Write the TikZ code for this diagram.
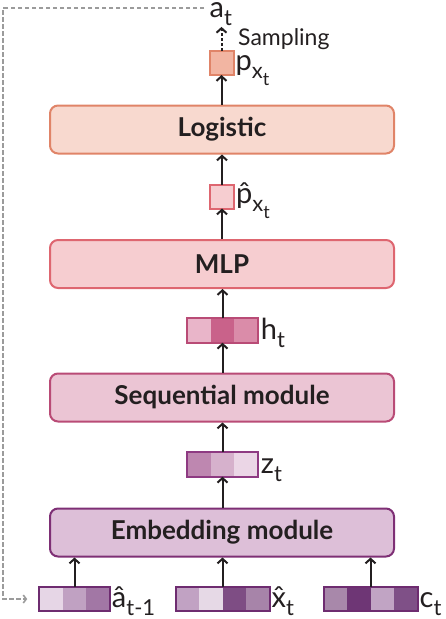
\documentclass[tikz,border=0pt]{standalone}
\usepackage{fontspec}
\setmainfont{Lato}
\usetikzlibrary{arrows.meta,calc}
\definecolor{ink}{HTML}{231F20}
\definecolor{logF}{HTML}{F8D9CF}
\definecolor{logD}{HTML}{E08468}
\definecolor{pxF}{HTML}{F2B5A2}
\definecolor{mlpF}{HTML}{F6CDD0}
\definecolor{mlpD}{HTML}{DE6670}
\definecolor{seqF}{HTML}{EBC5D4}
\definecolor{seqD}{HTML}{B94B76}
\definecolor{embF}{HTML}{DDBFD8}
\definecolor{embD}{HTML}{7E2F75}
\definecolor{zD}{HTML}{8E3A82}
\definecolor{inD}{HTML}{6E2C70}
\definecolor{hA}{HTML}{E9B5C9}
\definecolor{hB}{HTML}{C9628A}
\definecolor{hC}{HTML}{DA8CA9}
\definecolor{zA}{HTML}{BE87B0}
\definecolor{zB}{HTML}{D6B1CC}
\definecolor{zC}{HTML}{EBD6E6}
\definecolor{aA}{HTML}{E6D6E6}
\definecolor{aB}{HTML}{C0A1C2}
\definecolor{aC}{HTML}{A277A5}
\definecolor{xA}{HTML}{C1A2C3}
\definecolor{xB}{HTML}{E6D9E6}
\definecolor{xC}{HTML}{7E4D84}
\definecolor{xD}{HTML}{A784A9}
\definecolor{cA}{HTML}{A888AA}
\definecolor{cB}{HTML}{6E3675}
\definecolor{cC}{HTML}{C1A4C4}
\definecolor{cD}{HTML}{7F5087}
\definecolor{fbgray}{HTML}{9B9B9B}
\newcommand{\Lm}[1]{{\fontsize{29}{29}\selectfont #1}}
\newcommand{\Ls}[1]{\raisebox{-8pt}{\fontsize{22}{22}\selectfont #1}}
\newcommand{\Lss}[1]{\raisebox{-7pt}{\fontsize{18}{18}\selectfont #1}}
\newcommand{\hatted}[1]{\ooalign{#1\cr\hidewidth ˆ\hidewidth\cr}}
\tikzset{
  bx/.style={draw, line width=2pt, rounded corners=8pt, minimum width=344pt,
    minimum height=48pt, text=ink, font=\fontsize{26}{26}\selectfont\bfseries},
  sq/.style={draw, line width=2pt, minimum width=24pt, minimum height=24pt, inner sep=0pt, outer sep=0pt},
  barnode/.style={line width=2pt, minimum height=24.5pt, inner sep=0pt, outer sep=0pt},
  lbl/.style={inner sep=0pt, text=ink, anchor=base west},
  arr/.style={draw=ink, line width=2pt, -{Straight Barb[length=4.5pt,width=10pt]}},
  sarr/.style={arr, dash pattern=on 3pt off 2pt},
  fb/.style={draw=fbgray, line width=1.6pt, dash pattern=on 4.5pt off 2.5pt, -{Straight Barb[length=3pt,width=8pt]}},
}
\newcommand{\cellbar}[5]{%
  \foreach \cc [count=\i] in {#5}{\fill[\cc] ($(#2)+({(\i-1-#4/2)*23.5},-12.25)$) rectangle ++(23.5,24.5);}
  \node[barnode, draw=#3, minimum width={#4*23.5pt}] (#1) at (#2) {};
}
\begin{document}
\begin{tikzpicture}[x=1pt,y=-1pt]
\useasboundingbox (0,0) rectangle (446,619);
% boxes
\node[bx, draw=logD, fill=logF] (logistic) at (222,129.5) {Logistic};
\node[bx, draw=mlpD, fill=mlpF] (mlp) at (222,264) {MLP};
\node[bx, draw=seqD, fill=seqF] (seq) at (222,397.5) {Sequential module};
\node[bx, draw=embD, fill=embF] (emb) at (222,532.5) {Embedding module};
% small squares
\node[sq, draw=logD, fill=pxF] (px) at (221.5,63) {};
\node[sq, draw=mlpD, fill=mlpF] (phat) at (222,196.5) {};
% cell bars
\cellbar{ht}{222.5,330.5}{seqD}{3}{hA,hB,hC}
\cellbar{zt}{222.5,464.5}{zD}{3}{zA,zB,zC}
\cellbar{ahat}{74.5,599}{inD}{3}{aA,aB,aC}
\cellbar{xhat}{222.5,599}{inD}{4}{xA,xB,xC,xD}
\cellbar{ct}{370.5,599}{inD}{4}{cA,cB,cC,cD}
% labels
\node[lbl] (pxl) at ([xshift=2pt,yshift=-7pt]px.east) {\Lm{p}\Ls{x\Lss{t}}};
\node[lbl] (phatl) at ([xshift=2pt,yshift=-7pt]phat.east) {\Lm{\hatted{p}}\Ls{x\Lss{t}}};
\node[lbl] (htl) at ([xshift=3pt,yshift=-9pt]ht.east) {\Lm{h}\Ls{t}};
\node[lbl] (ztl) at ([xshift=3pt,yshift=-9pt]zt.east) {\Lm{z}\Ls{t}};
\node[lbl] (ahatl) at ([xshift=2pt,yshift=-8pt]ahat.east) {\Lm{\hatted{a}}\Ls{t-1}};
\node[lbl] (xhatl) at ([xshift=2pt,yshift=-8pt]xhat.east) {\Lm{\hatted{x}}\Ls{t}};
\node[lbl] (ctl) at ([xshift=2pt,yshift=-8pt]ct.east) {\Lm{c}\Ls{t}};
\node[lbl] (at) at (209.5,17.5) {\Lm{a}\Ls{t}};
\node[lbl, font=\fontsize{23}{23}\selectfont] (samp) at (238,45) {Sampling};
% arrows
\draw[arr] (px.north |- logistic.north) -- (px.south);
\draw[arr] (phat.north) -- (phat.north |- logistic.south);
\draw[arr] (phat.south |- mlp.north) -- (phat.south);
\draw[arr] (ht.north) -- (ht.north |- mlp.south);
\draw[arr] (ht.south |- seq.north) -- (ht.south);
\draw[arr] (zt.north) -- (zt.north |- seq.south);
\draw[arr] (zt.south |- emb.north) -- (zt.south);
\draw[arr] (ahat.north) -- (ahat.north |- emb.south);
\draw[arr] (xhat.north) -- (xhat.north |- emb.south);
\draw[arr] (ct.north) -- (ct.north |- emb.south);
\draw[sarr, shorten >=1pt] (px.north) -- (px.north |- at.south);
% feedback
\coordinate (fbs) at (204,8);
\coordinate (fbx) at (3,300);
\draw[fb] (fbs) -| (fbx) |- ([xshift=-12pt]ahat.west);
\end{tikzpicture}
\end{document}
